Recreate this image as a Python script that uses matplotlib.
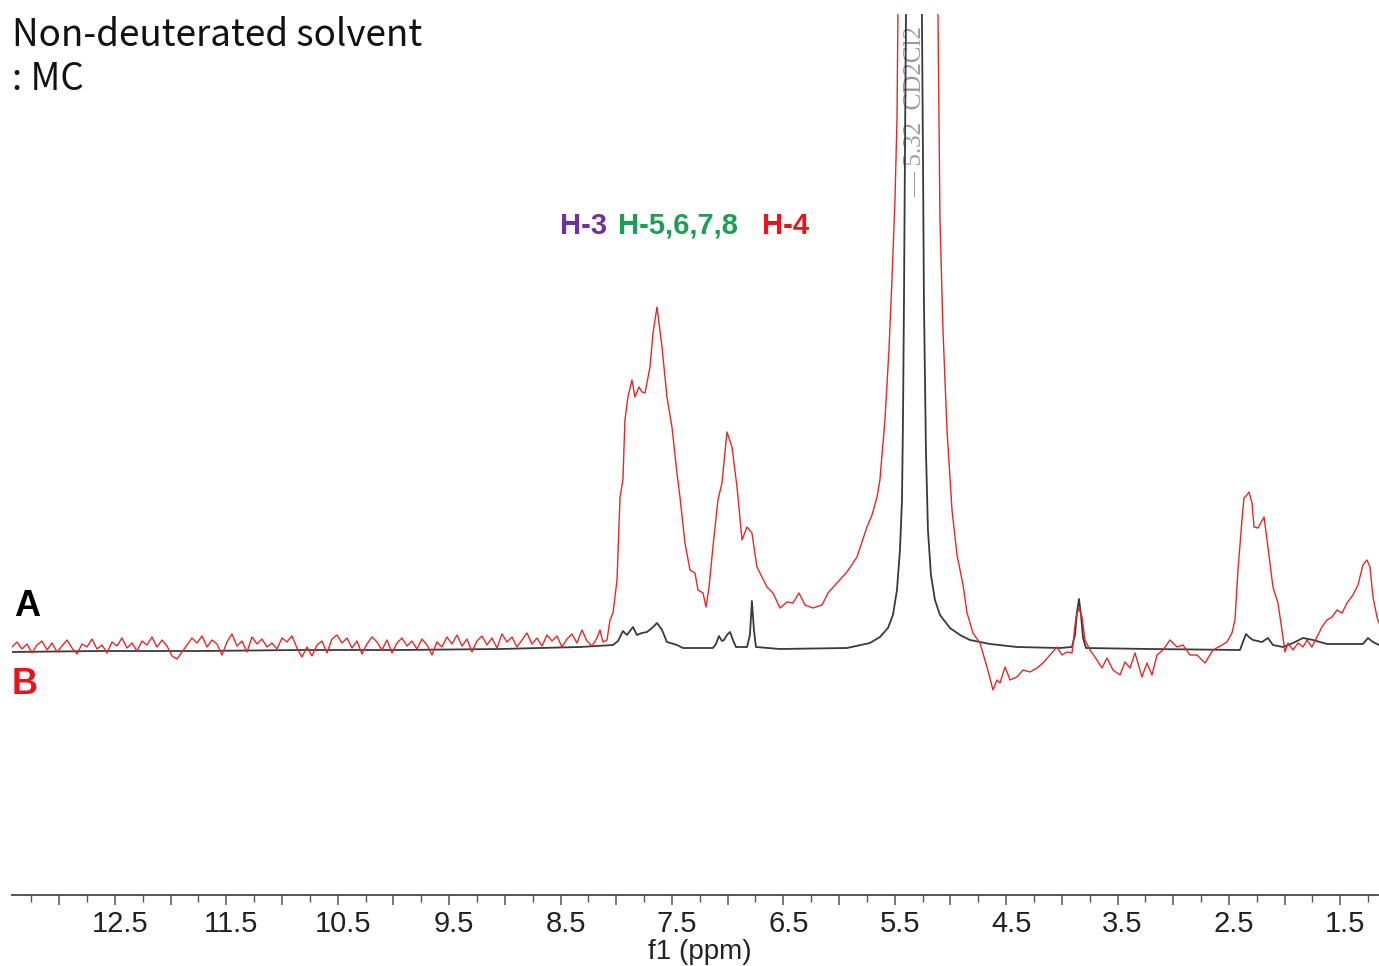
import numpy as np
import matplotlib
matplotlib.use("Agg")
import matplotlib.pyplot as plt
from matplotlib.ticker import MultipleLocator, FuncFormatter
from matplotlib.transforms import ScaledTranslation

# ── Spectrum A (reference, black) : ppm / intensity (a.u.) ─────────────
a_ppm = [13.424, 12.634, 11.737, 10.839, 9.941, 9.044, 8.326, 8.029, 7.984,
         7.940, 7.904, 7.850, 7.814, 7.769, 7.724, 7.679, 7.634, 7.589, 7.545,
         7.455, 7.401, 7.132, 7.105, 7.078, 7.051, 7.033, 7.006, 6.979, 6.952,
         6.925, 6.826, 6.800, 6.782, 6.764, 6.746, 6.530, 5.929, 5.722, 5.633,
         5.561, 5.516, 5.480, 5.453, 5.435, 5.426, 5.417, 5.408, 5.399, 5.381,
         5.327, 5.273, 5.256, 5.247, 5.238, 5.220, 5.202, 5.175, 5.139, 5.094,
         5.004, 4.914, 4.825, 4.645, 4.403, 4.017, 3.909, 3.882, 3.864, 3.846,
         3.828, 3.810, 3.783, 3.209, 2.401, 2.374, 2.347, 2.311, 2.284, 2.203,
         2.150, 2.105, 2.015, 1.925, 1.835, 1.746, 1.620, 1.297, 1.252, 1.207,
         1.153]
a_int = [-2, -1, -1, 0, 0, 1, 3, 5, 9,
         19, 15, 23, 15, 17, 18, 22, 27, 20, 8,
         5, 2, 2, 6, 14, 9, 10, 15, 18, 10,
         3, 3, 15, 49, 20, 3, 1, 2, 7, 13,
         22, 35, 60, 100, 150, 230, 350, 500, 636, 1250,
         2600, 1250, 636, 500, 350, 200, 120, 75, 50, 35,
         22, 15, 10, 6, 3, 2, 3, 15, 38, 51,
         35, 12, 2, 1, 0, 8, 16, 12, 10, 8,
         12, 5, 3, 7, 12, 10, 6, 6, 12, 8,
         5]

# ── Spectrum B (non-deuterated MC, red) ────────────────────────────────
# noisy baseline 13.42 -> 8.17 ppm on the acquisition grid
b_noise = [3, 8, 1, 6, -3, 5, 9, 0, 7, -2, 4, 10, 2, -4, 6, 3, 11, 1, 5, -3,
           8, 4, 12, 2, 7, -1, 9, 5, 13, 3, 10, 4, -6, -9, -2, 5, 12, 7, 14, 3,
           10, 6, -5, 8, 16, 4, 9, -2, 13, 6, 11, 3, 7, 1, 12, 8, 14, 2, -7, 3,
           -6, 5, 9, -3, 11, 15, 7, 12, 2, 9, -4, 6, 13, 8, 0, 10, -3, 7, 12, 4,
           9, 1, 11, 5, -5, 8, 3, 13, 6, 15, 4, 11, -2, 9, 14, 5, 12, 2, 16, 8,
           13, 3, 10, 17, 6, 12, 4, 15, 9, 14, 3, 11, 16, 7, 20, 9, 4, 12]
b_noise_start, b_noise_end = 13.424, 8.173

b_ppm = [8.146, 8.119, 8.083, 8.056, 8.029, 7.993, 7.966, 7.940, 7.922, 7.895,
         7.859, 7.832, 7.796, 7.769, 7.742, 7.697, 7.670, 7.634, 7.589, 7.545,
         7.500, 7.455, 7.428, 7.383, 7.338, 7.293, 7.266, 7.221, 7.194, 7.167,
         7.132, 7.087, 7.051, 7.006, 6.961, 6.916, 6.871, 6.826, 6.782, 6.737,
         6.692, 6.647, 6.593, 6.530, 6.467, 6.413, 6.360, 6.306, 6.234, 6.153,
         6.099, 6.019, 5.929, 5.839, 5.749, 5.704, 5.659, 5.633, 5.588, 5.552,
         5.525, 5.498, 5.480, 5.471, 5.435, 5.291, 5.148, 5.112, 5.094, 5.067,
         5.031, 4.986, 4.941, 4.887, 4.851, 4.798, 4.735, 4.672, 4.618, 4.582,
         4.555, 4.510, 4.465, 4.403, 4.349, 4.286, 4.223, 4.169, 4.107, 4.044,
         3.999, 3.954, 3.909, 3.873, 3.846, 3.819, 3.792, 3.747, 3.685, 3.640,
         3.595, 3.541, 3.478, 3.433, 3.388, 3.343, 3.281, 3.236, 3.191, 3.146,
         3.092, 3.029, 2.966, 2.913, 2.850, 2.787, 2.715, 2.643, 2.562, 2.518,
         2.473, 2.446, 2.419, 2.383, 2.365, 2.338, 2.320, 2.293, 2.275, 2.239,
         2.185, 2.150, 2.105, 2.060, 2.024, 1.997, 1.970, 1.925, 1.880, 1.835,
         1.799, 1.755, 1.710, 1.665, 1.620, 1.575, 1.530, 1.485, 1.440, 1.387,
         1.342, 1.297, 1.261, 1.234, 1.207, 1.171, 1.153]
b_int = [20, 8, 10, 30, 37, 70, 153, 170, 230, 253,
         270, 253, 263, 258, 257, 283, 317, 343, 303, 253,
         223, 177, 153, 107, 80, 77, 60, 57, 43, 63,
         103, 150, 167, 218, 203, 163, 110, 123, 117, 83,
         73, 63, 57, 42, 48, 47, 57, 45, 42, 45,
         57, 67, 78, 93, 123, 135, 153, 170, 230, 300,
         370, 450, 530, 636, 1250, 2150, 1250, 636, 430, 320,
         220, 140, 95, 65, 37, 17, 7, -17, -40, -30,
         -33, -17, -30, -27, -20, -22, -18, -13, -5, 3,
         -5, -2, -3, 33, 42, 33, 10, 0, -10, -18,
         -8, -20, -25, -12, -18, -3, -27, -13, -25, -5,
         0, 10, 3, 5, -5, -5, -13, 0, 5, 8,
         17, 30, 80, 130, 152, 155, 158, 147, 123, 122,
         133, 103, 63, 47, 20, -2, 7, 0, 7, 3,
         10, 3, 13, 23, 30, 33, 40, 37, 47, 55,
         65, 85, 90, 83, 53, 33, 27]

xtick_labels = [12.5, 11.5, 10.5, 9.5, 8.5, 7.5, 6.5, 5.5, 4.5, 3.5, 2.5, 1.5]
solvent_ppm = 5.32

RED = "#E02A2A"
LBL_RED = "#E8141A"

fig = plt.figure(figsize=(13.79, 9.66), dpi=100)
ax = fig.add_axes([12 / 1379, 71 / 966, 1 - 12 / 1379, (895 - 14) / 966])

noise_ppm = np.linspace(b_noise_start, b_noise_end, len(b_noise))
red_x = np.concatenate([noise_ppm, b_ppm])
red_y = np.concatenate([b_noise, b_int])

ax.plot(a_ppm, a_int, color="#3a3a3a", lw=1.3, zorder=2)
ax.plot(red_x, red_y, color=RED, lw=1.0, zorder=3)

ax.set_xlim(13.424, 1.153)
ax.set_ylim(-245, 636)

# solvent annotation (clipped at the top like the original)
ax.text(solvent_ppm, 453, "\u2014 5.32  CD2Cl2", rotation=90,
        ha="center", va="bottom", fontsize=18, color="#9a9a9a",
        family="Liberation Serif", clip_on=True, zorder=1)

# ── axis styling ──────────────────────────────────────────────────────
for s in ("top", "right", "left"):
    ax.spines[s].set_visible(False)
ax.spines["bottom"].set_color("#555555")
ax.spines["bottom"].set_linewidth(1.4)
ax.set_yticks([])
ax.xaxis.set_major_locator(MultipleLocator(0.5))
ax.xaxis.set_minor_locator(MultipleLocator(0.25))
ax.xaxis.set_major_formatter(FuncFormatter(
    lambda v, p: f"{v:.1f}" if any(abs(v - t) < 1e-6 for t in xtick_labels) else ""))
ax.tick_params(axis="x", which="major", length=7, width=1.1, color="#555555",
               labelsize=21, labelcolor="#222222", pad=4)
ax.tick_params(axis="x", which="minor", length=5, width=1.0, color="#555555")
shift = ScaledTranslation(5 / 100, 0, fig.dpi_scale_trans)
for lab in ax.get_xticklabels():
    lab.set_family("Liberation Sans")
    lab.set_transform(lab.get_transform() + shift)
ax.set_xlabel("f1 (ppm)", fontsize=20, family="Liberation Sans",
              color="#222222")
ax.xaxis.set_label_coords((700 - 12) / (1379 - 12), -0.05)

# ── titles / labels ───────────────────────────────────────────────────
fig.text(12 / 1379, 1 - 35 / 966, "Non-deuterated solvent", fontsize=26.5,
         family=["Noto Sans CJK KR", "DejaVu Sans"], color="#111111",
         ha="left", va="center")
fig.text(12 / 1379, 1 - 80 / 966, ": MC", fontsize=26.5,
         family=["Noto Sans CJK KR", "DejaVu Sans"], color="#111111",
         ha="left", va="center")

fig.text(14 / 1379, 1 - 607 / 966, "A", fontsize=26, fontweight="bold",
         family="Liberation Sans", color="black", ha="left", va="center")
fig.text(12 / 1379, 1 - 684 / 966, "B", fontsize=26, fontweight="bold",
         family="Liberation Sans", color=LBL_RED, ha="left", va="center")

fig.text(560 / 1379, 1 - 226 / 966, "H-3", fontsize=21, fontweight="bold",
         family="Liberation Sans", color="#7030A0", ha="left", va="center")
fig.text(618 / 1379, 1 - 226 / 966, "H-5,6,7,8", fontsize=21, fontweight="bold",
         family="Liberation Sans", color="#1E9E52", ha="left", va="center")
fig.text(762 / 1379, 1 - 226 / 966, "H-4", fontsize=21, fontweight="bold",
         family="Liberation Sans", color=LBL_RED, ha="left", va="center")

fig.savefig("out.png", dpi=100, facecolor="white")
